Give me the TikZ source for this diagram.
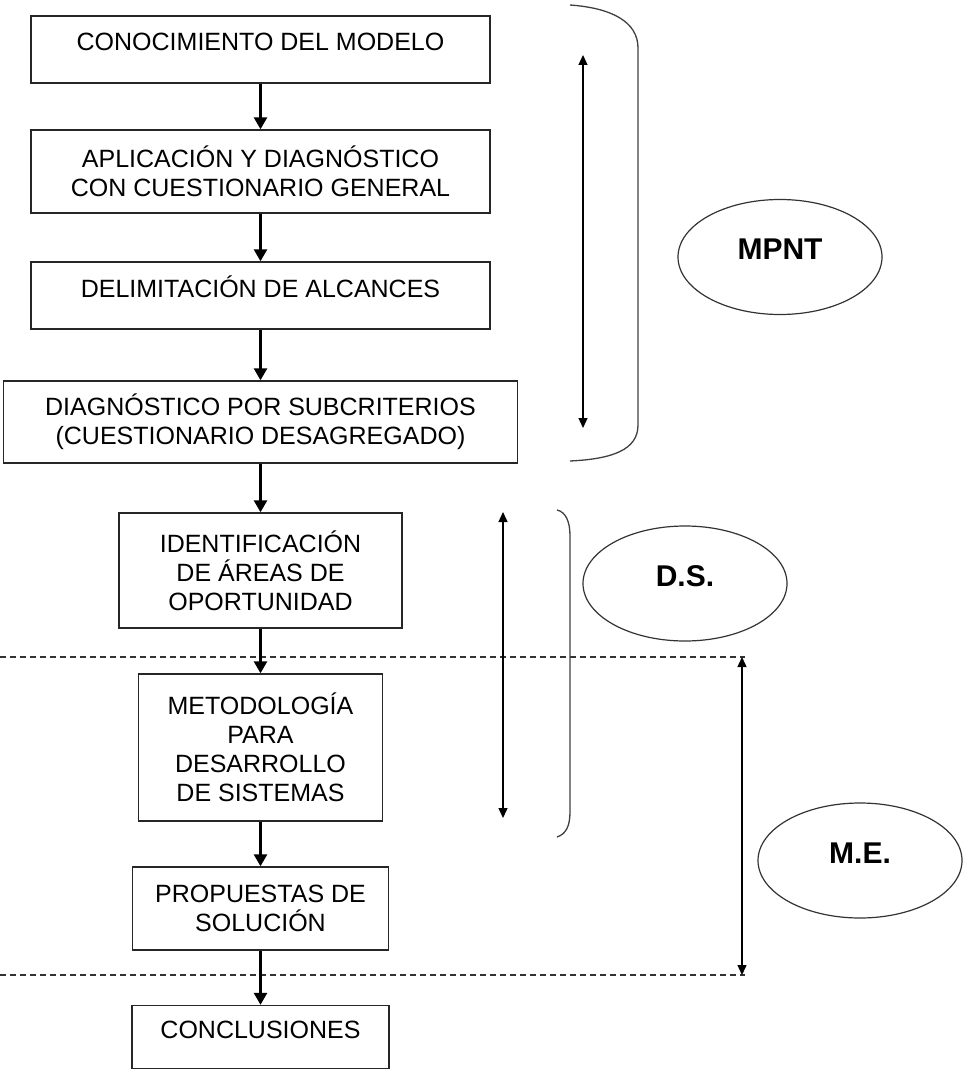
\documentclass[tikz,border=0pt]{standalone}
\usepackage{fontspec}
\setmainfont{Liberation Sans}
\usetikzlibrary{
    arrows.meta,
    shapes.geometric
}
\tikzset{
    paso/.style={draw=black!85, line width=1.4pt, align=center, inner sep=0pt,
        font=\fontsize{25}{29}\selectfont},
    pasoalto/.style={paso, text height=18pt, text depth=15pt},
    etiqueta/.style={draw=black!80, line width=1.2pt, ellipse, inner sep=0pt,
        minimum width=204pt, minimum height=115pt,
        font=\bfseries\fontsize{30}{36}\selectfont, text height=21pt, text depth=16pt},
    flecha/.style={line width=2.6pt, -{Triangle[length=12pt,width=13pt]}},
    rango/.style={line width=1.3pt,
        {Triangle[length=10pt,width=9pt]}-{Triangle[length=10pt,width=9pt]}},
    llave/.style={draw=black!75, line width=1.3pt},
    corte/.style={draw=black!80, line width=1.2pt, dash pattern=on 6pt off 4pt}
}

\begin{document}
\begin{tikzpicture}[x=1pt, y=-1pt]
    \useasboundingbox (0,0) rectangle (965,1070);
    \node[pasoalto, minimum width=459pt, minimum height=67pt] (conocimiento) at (260.5,49.5) {CONOCIMIENTO DEL MODELO};
    \node[paso, minimum width=459pt, minimum height=83pt] (aplicacion) at (260.5,171.5) {APLICACIÓN Y DIAGNÓSTICO\\CON CUESTIONARIO GENERAL};
    \node[pasoalto, minimum width=459pt, minimum height=67pt] (delimitacion) at (260.5,295.5) {DELIMITACIÓN DE ALCANCES};
    \node[paso, minimum width=514pt, minimum height=82pt] (subcriterios) at (260.5,422) {DIAGNÓSTICO POR SUBCRITERIOS\\(CUESTIONARIO DESAGREGADO)};
    \node[paso, minimum width=283pt, minimum height=115pt] (areas) at (260.5,570.5) {IDENTIFICACIÓN\\DE ÁREAS DE\\OPORTUNIDAD};
    \node[paso, minimum width=244pt, minimum height=147pt] (metodologia) at (260.5,747.5) {METODOLOGÍA\\PARA\\DESARROLLO\\DE SISTEMAS};
    \node[paso, minimum width=256pt, minimum height=83pt] (propuestas) at (260.5,908.5) {PROPUESTAS DE\\SOLUCIÓN};
    \node[pasoalto, minimum width=257pt, minimum height=63pt] (conclusiones) at (260.5,1037) {CONCLUSIONES};

    \node[etiqueta] (mpnt) at (780,257) {MPNT};
    \node[etiqueta] (ds) at (685,583.5) {D.S.};
    \node[etiqueta] (me) at (860,860.5) {M.E.};

    \coordinate (mpntarriba) at (583,55);
    \coordinate (mpntabajo) at (583,428);
    \coordinate (dsarriba) at (503,512);
    \coordinate (dsabajo) at (503,818);
    \coordinate (mearriba) at (742,657);
    \coordinate (meabajo) at (742,975);

    \draw[corte] (0,657) -- (745,657);
    \draw[corte] (0,975) -- (745,975);

    \draw[llave] (570,5) .. controls (612,8) and (638,22) .. (638,48) -- (638,425)
        .. controls (638,450) and (612,459) .. (570,461);
    \draw[llave] (557,510) .. controls (566,512) and (570,522) .. (570,536) -- (570,812)
        .. controls (570,826) and (566,834) .. (557,837);

    \draw
    (conocimiento) edge[flecha] (aplicacion)
    (aplicacion) edge[flecha] (delimitacion)
    (delimitacion) edge[flecha] (subcriterios)
    (subcriterios) edge[flecha] (areas)
    (areas) edge[flecha] (metodologia)
    (metodologia) edge[flecha] (propuestas)
    (propuestas) edge[flecha] (conclusiones)
    (mpntarriba) edge[rango] (mpntabajo)
    (dsarriba) edge[rango] (dsabajo)
    (mearriba) edge[rango] (meabajo);
\end{tikzpicture}
\end{document}
